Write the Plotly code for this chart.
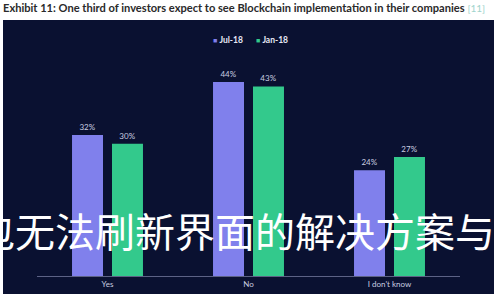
import plotly.graph_objects as go

categories = ["Yes", "No", "I don't know"]
jul18 = [32, 44, 24]
jan18 = [30, 43, 27]
series_names = ["Jul-18", "Jan-18"]
title_text = "Exhibit 11: One third of investors expect to see Blockchain implementation in their companies"
ref_text = "[11]"
watermark = "钱包无法刷新界面的解决方案与技巧"

W, H = 500, 300
ml, mr, mt, mb = 37, 40, 60, 24
pw = W - ml - mr
ph = H - mt - mb

def px(x):
    return (x - ml) / pw

def py(y):
    return (H - mb - y) / ph

navy = "#0a1131"
purple = "#8080ec"
green = "#33c98c"
colors = [purple, green]

fig = go.Figure()
for name, vals, col in zip(series_names, [jul18, jan18], colors):
    fig.add_trace(go.Bar(
        x=categories, y=vals, name=name, marker=dict(color=col, line=dict(width=0)),
        text=[f"{v}%" for v in vals], textposition="outside",
        textfont=dict(size=8, color="#c9cde0", family="Lato"),
        cliponaxis=False, showlegend=False,
    ))

legend_text = "&nbsp;&nbsp;&nbsp;&nbsp;&nbsp;&nbsp;".join(
    f"<span style='color:{c};font-size:7px'>■</span>&nbsp;<b>{n}</b>" for n, c in zip(series_names, colors)
)

fig.update_layout(
    width=W, height=H,
    margin=dict(l=ml, r=mr, t=mt, b=mb),
    paper_bgcolor="white",
    plot_bgcolor="rgba(0,0,0,0)",
    barmode="group", bargap=0.433, bargroupgap=0.225,
    showlegend=False,
    title=dict(text=f"<b>{title_text}</b> <span style='color:#9fd4cc;font-size:10px'>{ref_text}</span>",
               xref="container", yref="container", x=3 / W, xanchor="left",
               y=1 - 8 / H, yanchor="middle",
               font=dict(size=11.1, color="#2a2a2a", family="Lato")),
    xaxis=dict(showgrid=False, showline=True, linecolor="#5c6285", linewidth=1,
               ticks="", tickfont=dict(size=8, color="#c9cde0", family="Lato")),
    yaxis=dict(range=[0, 49], visible=False),
    shapes=[dict(type="rect", xref="paper", yref="paper",
                 x0=px(3), x1=px(494), y0=py(294), y1=py(20),
                 fillcolor=navy, line=dict(width=0), layer="below")],
    annotations=[
        dict(text=legend_text, xref="paper", yref="paper",
             x=px(251), y=py(40), xanchor="center", yanchor="middle",
             showarrow=False, font=dict(size=8.5, color="#e6e8f5", family="Lato")),
        dict(text=watermark, xref="paper", yref="paper",
             x=px(-67), y=py(230), xanchor="left", yanchor="middle",
             showarrow=False,
             font=dict(size=40, color="white", family="Noto Sans CJK SC")),
    ],
)

fig.write_html("out.html")
